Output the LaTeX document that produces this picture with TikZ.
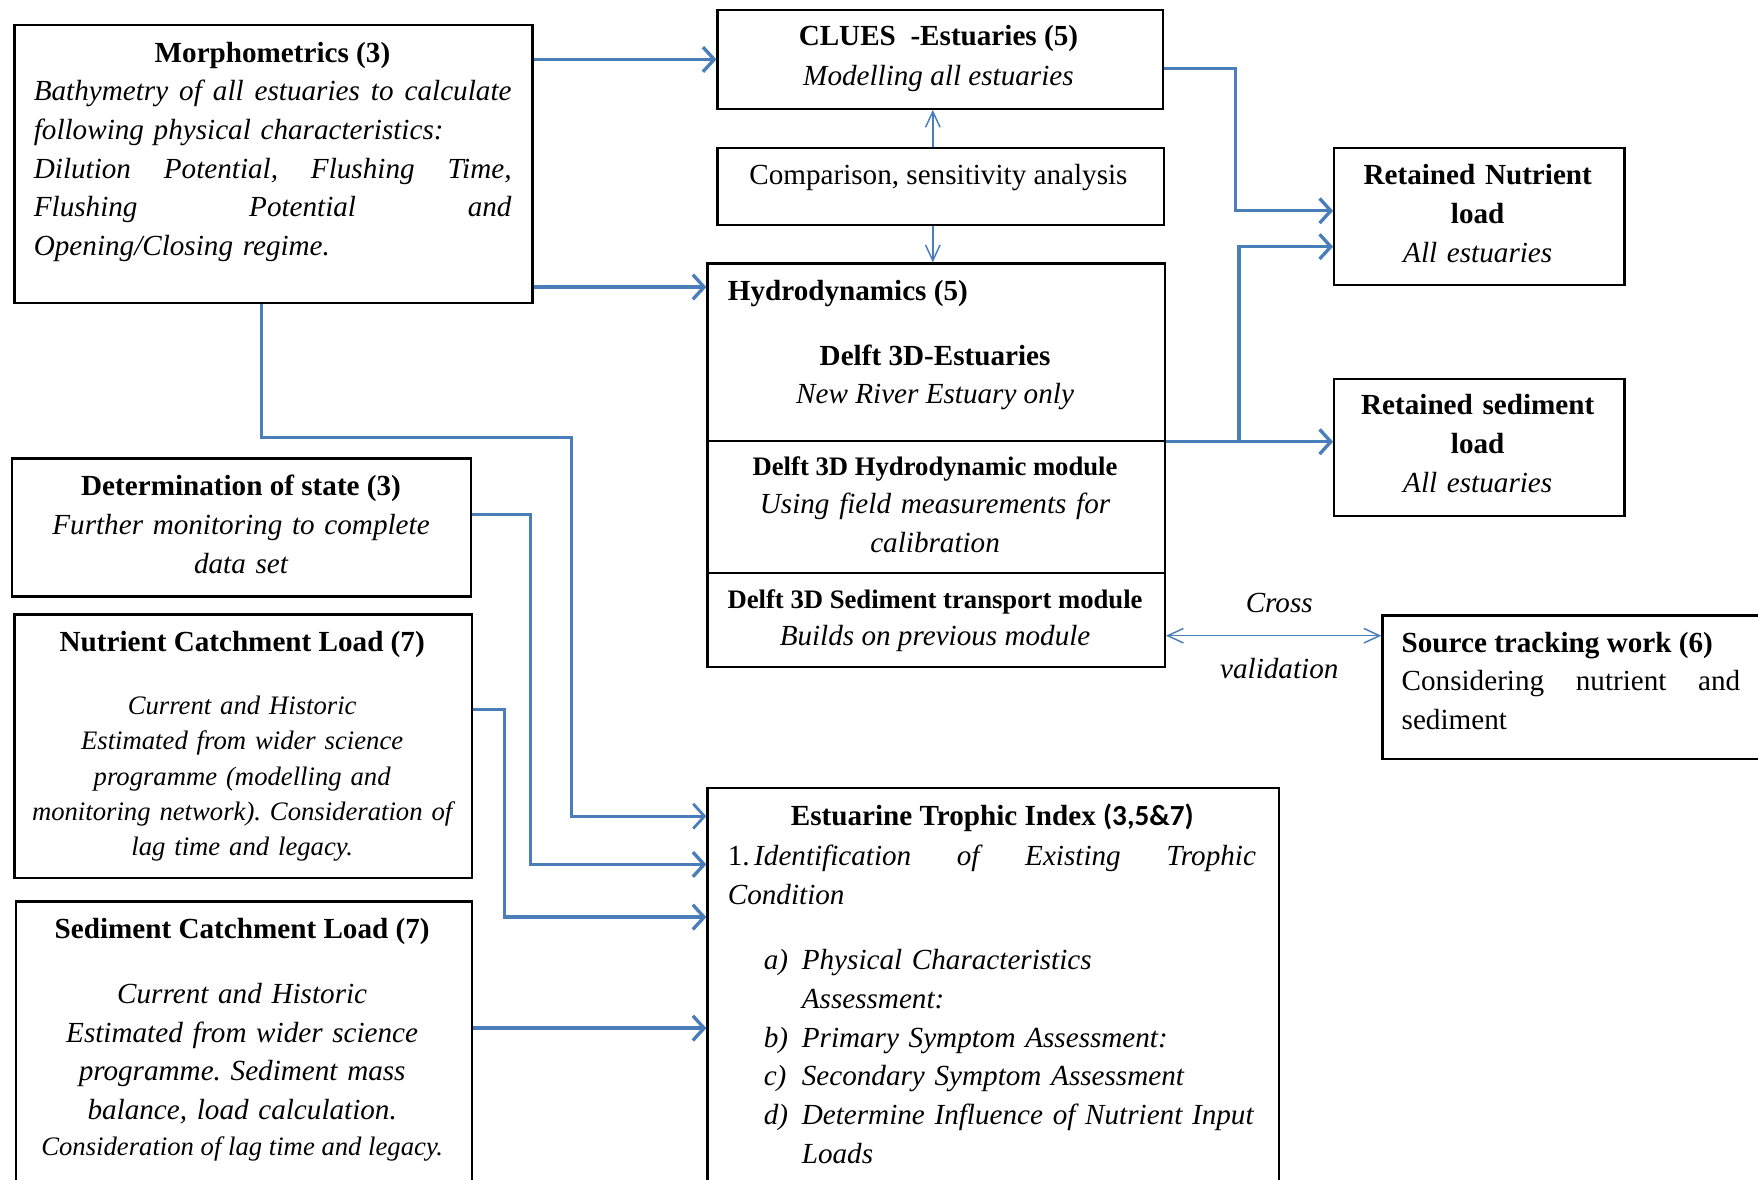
\documentclass[tikz,border=0pt]{standalone}
\usepackage{fontspec}
\setmainfont{Liberation Serif}
\newfontfamily\carlito{Carlito}
\usetikzlibrary{arrows.meta}
\definecolor{linkblue}{RGB}{74,126,187}
\frenchspacing
\newcommand\fbig{\fontsize{26pt}{34.5pt}\selectfont}
\newcommand\fsml{\fontsize{23.8pt}{31.6pt}\selectfont}
\newcommand\jline[2]{\makebox[#1][s]{\spaceskip=0pt\xspaceskip=0pt #2}}
\tikzset{
  box/.style={draw=black, line width=2pt, rectangle, inner sep=0pt, anchor=north west},
  txt/.style={inner sep=0pt, anchor=base, font=\fbig},
  txtl/.style={inner sep=0pt, anchor=base west, font=\fbig},
  conn/.style={draw=linkblue, line width=3pt, -{Straight Barb[length=10pt,width=22pt]}},
  thinconn/.style={draw=linkblue, line width=1.3pt, -{Straight Barb[length=14pt,width=13pt]}},
  dblconn/.style={draw=linkblue, line width=1.3pt, {Straight Barb[length=14pt,width=13pt]}-{Straight Barb[length=14pt,width=13pt]}}
}
\begin{document}
\begin{tikzpicture}[x=1pt,y=-1pt]
\useasboundingbox (0,0) rectangle (1568,1052);
\fill[white] (0,0) rectangle (1568,1052);

% boxes
\node[box, minimum width=462pt, minimum height=248pt] (morph) at (12,21) {};
\node[box, minimum width=397pt, minimum height=88pt] (clues) at (639,8) {};
\node[box, minimum width=398pt, minimum height=69pt] (comp) at (639,131) {};
\node[box, minimum width=408pt, minimum height=158pt] (hydro) at (630,234) {};
\node[box, minimum width=408pt, minimum height=118pt] (hydmod) at (630,392) {};
\node[box, minimum width=408pt, minimum height=84pt] (sedmod) at (630,510) {};
\node[box, minimum width=259pt, minimum height=122pt] (retn) at (1189,131) {};
\node[box, minimum width=259pt, minimum height=122pt] (rets) at (1189,337) {};
\node[box, minimum width=345pt, minimum height=128pt] (src) at (1232,548) {};
\node[box, minimum width=409pt, minimum height=123pt] (det) at (10,408) {};
\node[box, minimum width=408pt, minimum height=235pt] (nut) at (12,547) {};
\node[box, minimum width=407pt, minimum height=260pt] (sed) at (13,803) {};
\node[box, minimum width=510pt, minimum height=360pt] (eti) at (630,702) {};

% texts
\node[txt] (morphT) at (243,56) {\bfseries Morphometrics (3)};
\node[txtl, text width=426pt, align=left] (morphB) at (30,90) {\itshape
\jline{426pt}{Bathymetry of all estuaries to calculate}\\
following physical characteristics:\\
\jline{426pt}{Dilution Potential, Flushing Time,}\\
\jline{426pt}{Flushing Potential and}\\
Opening/Closing regime.};

\node[txt] (cluesT) at (837,41) {\bfseries CLUES\ \ -Estuaries (5)};
\node[txt] (cluesB) at (837,76) {\itshape Modelling all estuaries};
\node[txt] (compT) at (837,165) {Comparison, sensitivity analysis};

\node[txtl] (hydroT) at (649,268) {\bfseries Hydrodynamics (5)};
\node[txt] (hydroS) at (834,326) {\bfseries Delft 3D-Estuaries};
\node[txt] (hydroB) at (834,360) {\itshape New River Estuary only};
\node[txt, font=\fsml] (hydmodT) at (834,424) {\bfseries Delft 3D Hydrodynamic module};
\node[txt, text width=400pt, align=center] (hydmodB) at (834,458) {\itshape Using field measurements for\\ calibration};
\node[txt, font=\fsml] (sedmodT) at (834,543) {\bfseries Delft 3D Sediment transport module};
\node[txt] (sedmodB) at (834,576) {\itshape Builds on previous module};

\node[txt, text width=255pt, align=center] (retnT) at (1318,165) {\bfseries Retained Nutrient\\ load\\ \mdseries\itshape All estuaries};
\node[txt, text width=255pt, align=center] (retsT) at (1318,370) {\bfseries Retained sediment\\ load\\ \mdseries\itshape All estuaries};

\node[txtl] (srcT) at (1250,582) {\bfseries Source tracking work (6)};
\node[txtl, text width=302pt, align=left] (srcB) at (1250,616) {\jline{302pt}{Considering nutrient and}\\ sediment};

\node[txt] (cross) at (1141,546) {\itshape Cross};
\node[txt] (valid) at (1141,605) {\itshape validation};

\node[txt] (detT) at (215,442) {\bfseries Determination of state (3)};
\node[txt, text width=400pt, align=center] (detB) at (215,477) {\itshape Further monitoring to complete\\ data set};

\node[txt] (nutT) at (216,581) {\bfseries Nutrient Catchment Load (7)};
\node[txt, font=\fsml, text width=400pt, align=center] (nutB) at (216,637) {\itshape Current and Historic\\ Estimated from wider science\\ programme (modelling and\\ monitoring network). Consideration of\\ lag time and legacy.};

\node[txt] (sedT) at (216,837) {\bfseries Sediment Catchment Load (7)};
\node[txt, text width=400pt, align=center] (sedB) at (216,895) {\itshape Current and Historic\\ Estimated from wider science\\ programme. Sediment mass\\ balance, load calculation.};
\node[txt, font=\fsml] (sedB2) at (216,1031) {\itshape Consideration of lag time and legacy.};

\node[txt] (etiT) at (885,736) {\bfseries Estuarine Trophic Index {\carlito\bfseries (3,5\&7)}};
\node[txtl, text width=471pt, align=left] (etiB) at (649,772) {\jline{471pt}{1.\hspace{4pt}\itshape Identification of Existing Trophic}\\ \itshape Condition};
\node[txtl, text width=470pt, align=left] (etiL) at (681,865) {\itshape
\makebox[34pt][l]{a)}Physical Characteristics\\
\hspace*{34pt}Assessment:\\
\makebox[34pt][l]{b)}Primary Symptom Assessment:\\
\makebox[34pt][l]{c)}Secondary Symptom Assessment\\
\makebox[34pt][l]{d)}Determine Influence of Nutrient Input\\
\hspace*{34pt}Loads};

% connectors
\draw[conn] (morph.east |- clues.west) -- (clues.west);
\draw[conn] (morph.east |- 0,256) -- (hydro.west |- 0,256);
\draw[conn, line width=2.5pt] (morph.south -| 233,0) -- (233,390) -- (510,390) -- (510,728) -- (eti.west |- 0,728);
\draw[conn] (det.east |- 0,459) -- (473,459) -- (473,771) -- (eti.west |- 0,771);
\draw[conn] (nut.east |- 0,633) -- (450,633) -- (450,818) -- (eti.west |- 0,818);
\draw[conn] (sed.east |- 0,917) -- (eti.west |- 0,917);
\draw[conn] (clues.east |- 0,61) -- (1102,61) -- (1102,188) -- (retn.west |- 0,188);
\draw[conn] (hydro.south east) -- (rets.west |- hydro.south east);
\draw[conn] (1105,392) -- (1105,220) -- (retn.west |- 0,220);
\draw[thinconn] (comp.north -| 832,0) -- (clues.south -| 832,0);
\draw[thinconn] (comp.south -| 832,0) -- (hydro.north -| 832,0);
\draw[dblconn] (sedmod.east |- 0,567) -- (src.west |- 0,567);
\end{tikzpicture}
\end{document}
